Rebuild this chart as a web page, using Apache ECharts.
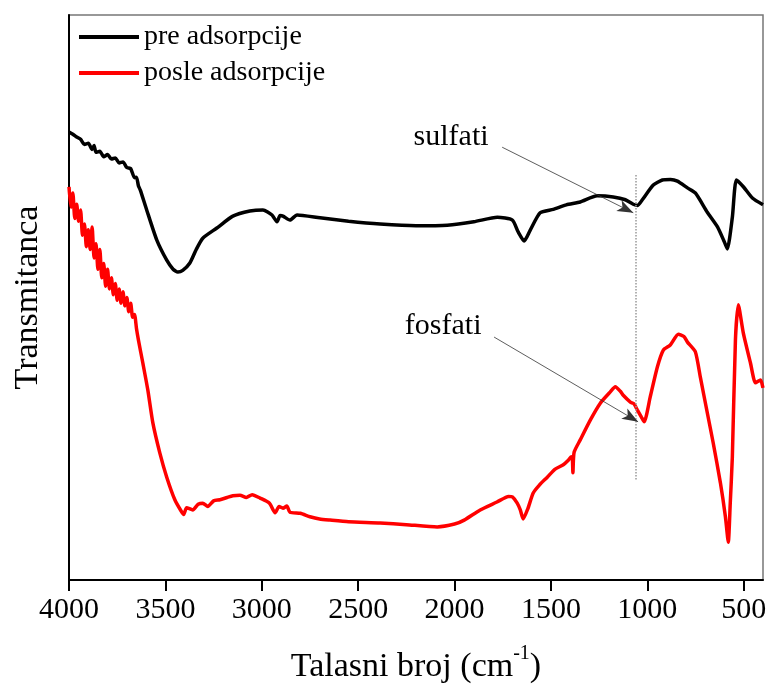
<!DOCTYPE html>
<html>
<head>
<meta charset="utf-8">
<script src="https://cdn.jsdelivr.net/npm/echarts@6/dist/echarts.min.js"></script>
<style>html,body{margin:0;padding:0;background:#fff;}#chart{width:769px;height:692px;}</style>
</head>
<body>
<div id="chart"></div>
<script>
// ---- data ----
var seriesNames = ['pre adsorpcije', 'posle adsorpcije'];
var xTicks = [4000, 3500, 3000, 2500, 2000, 1500, 1000, 500];

// wavenumber (cm-1), transmittance (arb. units)
var preWn = [4000,3980,3960,3940,3920,3900,3880,3870,3860,3840,3820,3800,3780,3760,3740,3720,3700,3680,3660,3650,3640,3630,3597,3545,3493,3460,3435,3410,3373,3340,3306,3233,3150,3062,2994,2947,2921,2905,2890,2854,2817,2698,2550,2386,2200,2038,1900,1778,1700,1670,1639,1608,1556,1488,1420,1348,1260,1177,1114,1073,1050,1026,969,922,880,844,792,751,689,636,600,585,559,538,502,455,400];
var preT  = [79.3,78.9,78.4,78.0,77.1,77.3,76.2,76.9,75.7,75.9,74.9,75.3,74.5,74.7,73.8,74.0,73.0,72.8,71.2,71.3,69.8,69.0,65.5,60.2,56.6,55.0,54.5,54.8,56.1,58.5,60.5,62.3,64.4,65.3,65.5,64.6,63.4,64.5,64.4,63.7,64.6,64.1,63.5,63.0,62.7,62.8,63.4,64.2,63.7,61.6,60.0,61.9,65.0,65.6,66.4,66.9,68.0,67.8,67.3,66.5,66.3,67.3,69.9,70.8,70.9,70.6,69.4,68.5,65.1,62.5,59.8,58.6,64.2,70.8,69.6,67.6,66.4];

var postWn = [4000,3990,3980,3970,3960,3950,3940,3930,3920,3910,3900,3890,3880,3870,3860,3850,3840,3830,3820,3810,3800,3790,3780,3770,3760,3750,3740,3730,3720,3710,3700,3690,3680,3670,3660,3650,3640,3617,3591,3565,3529,3493,3451,3420,3405,3390,3358,3330,3306,3280,3250,3217,3180,3150,3113,3080,3050,3009,2960,2931,2910,2890,2870,2854,2800,2750,2700,2646,2550,2386,2250,2090,2000,1950,1867,1780,1720,1700,1675,1659,1644,1620,1592,1560,1519,1480,1436,1410,1395,1389,1386,1380,1348,1296,1244,1192,1166,1140,1125,1088,1070,1052,1030,1016,985,948,917,881,839,810,792,751,725,689,658,621,595,580,570,559,543,528,502,465,439,413,400];
var postT  = [69.6,66.0,68.5,64.0,66.5,63.5,65.5,61.0,63.0,59.0,62.0,58.5,62.5,57.0,59.5,55.0,58.5,53.5,56.0,52.0,55.0,51.5,53.5,50.5,52.5,49.5,51.5,49.0,51.0,48.5,50.0,47.5,49.0,46.5,47.0,44.5,42.5,38.4,33.6,27.8,22.5,18.2,14.2,12.3,11.6,12.8,12.4,13.4,13.6,13.0,14.0,14.2,14.6,14.9,15.0,14.6,15.1,14.5,13.6,11.9,13.0,12.7,13.1,12.0,11.8,11.2,10.8,10.6,10.3,10.1,9.8,9.4,9.9,10.6,12.4,13.8,14.8,14.7,13.6,12.4,10.8,12.6,15.4,16.8,18.2,19.6,20.4,21.2,21.8,21.6,19.0,22.6,24.8,28.3,31.3,33.3,34.2,33.4,32.7,31.5,31.2,30.1,28.8,28.0,32.4,37.7,40.7,41.6,43.5,43.1,42.1,40.4,35.9,29.6,24.2,17.2,11.2,6.7,13.5,21.8,42.5,48.7,43.7,38.4,34.9,35.4,34.0];

// annotations (data coordinates)
var dottedLineWn = 1062;
var dottedLineT = [71.7, 17.7];
var annotSulfati = {text: 'sulfati', label: [2018, 78.4], from: [1753, 76.6], to: [1073, 65.0]};
var annotFosfati = {text: 'fosfati', label: [2059, 45.0], from: [1795, 43.0], to: [1048, 28.0]};

function pairs(xs, ys) { return xs.map(function (x, i) { return [x, ys[i]]; }); }

var FONT = '"Liberation Serif", "Times New Roman", serif';

var chart = echarts.init(document.getElementById('chart'), null, {renderer: 'canvas'});
chart.setOption({
  animation: false,
  backgroundColor: '#fff',
  grid: {left: 69, right: 6, top: 15, bottom: 112, show: true, borderColor: '#777', borderWidth: 1.5, backgroundColor: 'transparent', outerBoundsMode: 'none', containLabel: false},
  legend: {
    orient: 'vertical', left: 74, top: 18, itemWidth: 60, itemHeight: 4, itemGap: 8,
    icon: 'rect',
    textStyle: {fontFamily: FONT, fontSize: 28, color: '#000'},
    data: seriesNames
  },
  xAxis: {
    type: 'value', inverse: true, min: 400, max: 4000,
    name: '{t|Talasni broj (cm}{s|-1}{t|)}',
    nameLocation: 'middle', nameGap: 64,
    nameTextStyle: {rich: {
      t: {fontFamily: FONT, fontSize: 34, color: '#000', verticalAlign: 'bottom', lineHeight: 40},
      s: {fontFamily: FONT, fontSize: 20, color: '#000', verticalAlign: 'top', lineHeight: 40, padding: [0, 0, 18, 0]}
    }},
    axisLine: {show: true, lineStyle: {color: '#000', width: 2}},
    axisTick: {show: true, inside: false, length: 11, lineStyle: {color: '#000', width: 2}, customValues: xTicks},
    axisLabel: {show: true, margin: 15, fontFamily: FONT, fontSize: 30, color: '#000', customValues: xTicks,
      formatter: function (v) { return String(v); }},
    splitLine: {show: false}
  },
  yAxis: {
    type: 'value', min: 0, max: 100,
    name: 'Transmitanca', nameLocation: 'middle', nameGap: 24,
    nameTextStyle: {fontFamily: FONT, fontSize: 34, color: '#000'},
    axisLine: {show: true, lineStyle: {color: '#000', width: 2}},
    axisTick: {show: false}, axisLabel: {show: false}, splitLine: {show: false}
  },
  series: [
    {
      name: seriesNames[0], type: 'line', showSymbol: false, smooth: 0.2,
      data: pairs(preWn, preT),
      lineStyle: {color: '#000', width: 3.5}, itemStyle: {color: '#000'},
      markLine: {
        silent: true, animation: false,
        data: [
          [{coord: [dottedLineWn, dottedLineT[0]], symbol: 'none', lineStyle: {color: '#999', type: 'dotted', width: 1.5}},
           {coord: [dottedLineWn, dottedLineT[1]], symbol: 'none'}],
          [{coord: annotSulfati.from, symbol: 'none', lineStyle: {color: '#333', type: 'solid', width: 0.8}},
           {coord: annotSulfati.to, symbol: 'arrow', symbolSize: [9, 16]}],
          [{coord: annotFosfati.from, symbol: 'none', lineStyle: {color: '#333', type: 'solid', width: 0.8}},
           {coord: annotFosfati.to, symbol: 'arrow', symbolSize: [9, 16]}]
        ],
        label: {show: false}
      },
      markPoint: {
        silent: true, animation: false,
        symbol: 'circle', symbolSize: 0,
        label: {show: true, position: 'inside', fontFamily: FONT, fontSize: 30, color: '#000'},
        data: [
          {coord: annotSulfati.label, value: annotSulfati.text, label: {formatter: annotSulfati.text}},
          {coord: annotFosfati.label, value: annotFosfati.text, label: {formatter: annotFosfati.text}}
        ]
      }
    },
    {
      name: seriesNames[1], type: 'line', showSymbol: false, smooth: 0.2,
      data: pairs(postWn, postT),
      lineStyle: {color: '#ff0000', width: 3.5}, itemStyle: {color: '#ff0000'}
    }
  ]
});
</script>
</body>
</html>
